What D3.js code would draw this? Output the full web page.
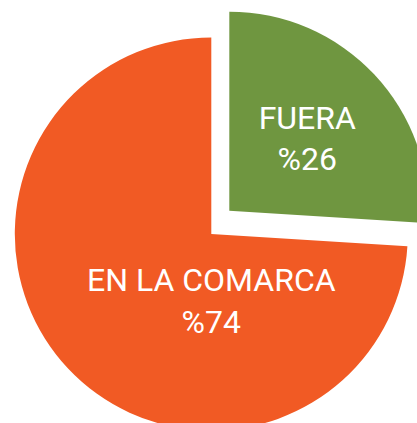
<!DOCTYPE html>
<html>
<head>
<meta charset="utf-8">
<script src="https://cdn.jsdelivr.net/npm/d3@7"></script>
<style>
  html, body { margin: 0; padding: 0; background: #ffffff; }
  svg { display: block; }
</style>
</head>
<body>
<svg id="chart" width="417" height="423"></svg>
<script>
// ---- data ----
const categories = ["FUERA", "EN LA COMARCA"];
const values = [26, 74];
const valueLabels = ["%26", "%74"];
const colors = ["#6F9640", "#F15A24"];

// ---- layout / style ----
const W = 417, H = 423;
const cx = 211.3, cy = 234;
const radii = [199, 196.5];
const explode = [[18, -23.3], [0, 0]];
const labelRadius = [107, 66];
const fontSize = 32;
const lineGap = 41.5;

const svg = d3.select("#chart");

const pie = d3.pie().sort(null).value(d => d)(values);

const g = svg.append("g").attr("transform", `translate(${cx},${cy})`);

const slices = g.selectAll("g.slice")
  .data(pie)
  .join("g")
  .attr("class", "slice")
  .attr("transform", (d, i) => `translate(${explode[i][0]},${explode[i][1]})`);

slices.append("path")
  .attr("d", (d, i) => d3.arc().innerRadius(0).outerRadius(radii[i])(d))
  .attr("fill", (d, i) => colors[i]);

// label positions: green at slice centroid direction, orange straight down
slices.each(function (d, i) {
  const ang = i === 0 ? (d.startAngle + d.endAngle) / 2 : Math.PI;
  const lx = Math.sin(ang) * labelRadius[i];
  const ly = -Math.cos(ang) * labelRadius[i];
  const t = d3.select(this).append("text")
    .attr("text-anchor", "middle")
    .attr("fill", "#ffffff")
    .attr("font-family", "Roboto, 'DejaVu Sans Condensed', sans-serif")
    .attr("font-weight", 400)
    .attr("font-size", fontSize);
  t.append("tspan").attr("x", lx).attr("y", ly - lineGap / 2 + 12).text(categories[i]);
  t.append("tspan").attr("x", lx).attr("y", ly + lineGap / 2 + 12).text(valueLabels[i]);
});
</script>
</body>
</html>
